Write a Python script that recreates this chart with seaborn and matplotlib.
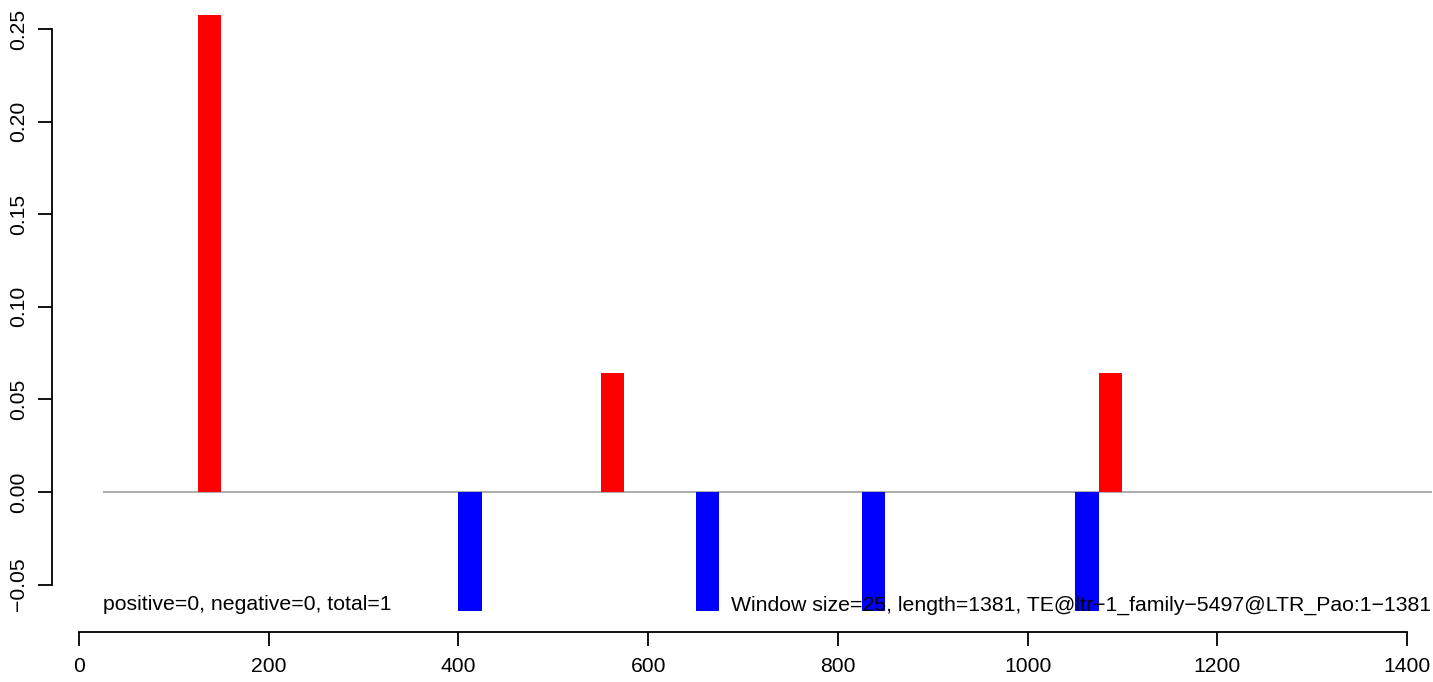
import pandas as pd
import seaborn as sns
import matplotlib.pyplot as plt

# window starts (size 25) and scores
win_start = [125, 400, 550, 650, 825, 1050, 1075]
score = [0.2576, -0.0644, 0.0644, -0.0644, -0.0644, -0.0644, 0.0644]
win_size = 25
seq_from, seq_to = 25, 1426
x_ticks = [0, 200, 400, 600, 800, 1000, 1200, 1400]
y_ticks = [-0.05, 0.00, 0.05, 0.10, 0.15, 0.20, 0.25]
left_note = "positive=0, negative=0, total=1"
right_note = "Window size=25, length=1381, TE@ltr\u22121_family\u22125497@LTR_Pao:1\u22121381"

sns.set_style("white")
plt.rcParams["font.family"] = ["Liberation Sans", "DejaVu Sans"]
plt.rcParams["text.color"] = "black"

df = pd.DataFrame({"pos": [s + win_size / 2 for s in win_start], "score": score})
df["strand"] = ["plus" if v > 0 else "minus" for v in df["score"]]

fig = plt.figure(figsize=(14.33, 6.82), dpi=100)
ax = fig.add_axes([0, 0, 1, 1])

# baseline under the bars
ax.hlines(0, seq_from, seq_to, color="#a6a6a6", linewidth=1.3, zorder=1)

sns.barplot(data=df, x="pos", y="score", hue="strand",
            palette={"plus": "#ff0000", "minus": "#0000ff"},
            native_scale=True, dodge=False, width=1, saturation=1,
            errorbar=None, legend=False, linewidth=0, ax=ax, zorder=2)

# map data to pixel layout of the reference
ax.set_xlim(-83.3, 1427.4)
ax.set_ylim(-0.1026, 0.2657)

for s in ["top", "right"]:
    ax.spines[s].set_visible(False)
ax.spines["left"].set_position(("data", -28.5))
ax.spines["left"].set_bounds(-0.05, 0.25)
ax.spines["bottom"].set_position(("data", -0.0756))
ax.spines["bottom"].set_bounds(0, 1400)
for s in ["left", "bottom"]:
    ax.spines[s].set_linewidth(1.3)
    ax.spines[s].set_color("black")

ax.set_xticks(x_ticks)
ax.set_xticklabels([str(t) for t in x_ticks])
ax.set_yticks(y_ticks)
ax.set_yticklabels([f"{t:.2f}".replace("-", "\u2212") for t in y_ticks],
                   rotation=90, va="center")
ax.tick_params(axis="both", direction="out", length=10, width=1.3,
               labelsize=15.2, colors="black", left=True, bottom=True)
ax.tick_params(axis="x", pad=8)
ax.tick_params(axis="y", pad=7)
ax.set_xlabel("")
ax.set_ylabel("")

ax.text(seq_from, -0.061, left_note, ha="left", va="center", fontsize=15.3, color="black")
ax.text(seq_to - 1, -0.061, right_note, ha="right", va="center", fontsize=15.3, color="black")

fig.savefig("out.png", dpi=100)
